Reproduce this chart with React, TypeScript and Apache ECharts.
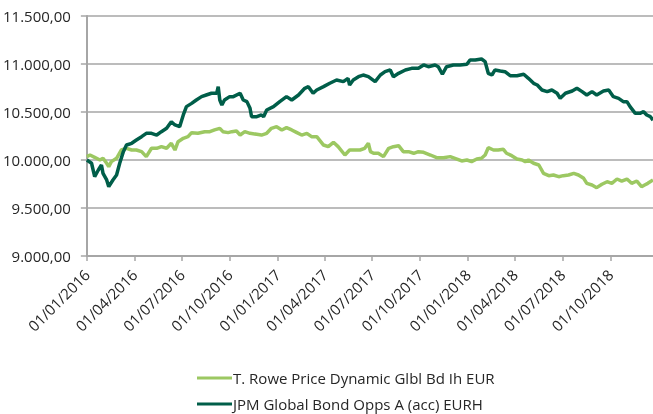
import React, { useEffect, useRef } from "react";
import * as echarts from "echarts";

const seriesNames = [
  "T. Rowe Price Dynamic Glbl Bd Ih EUR",
  "JPM Global Bond Opps A (acc) EURH",
];

const yTicks = [9000, 9500, 10000, 10500, 11000, 11500];

const xTickDates = [
  "2016-01-01", "2016-04-01", "2016-07-01", "2016-10-01",
  "2017-01-01", "2017-04-01", "2017-07-01", "2017-10-01",
  "2018-01-01", "2018-04-01", "2018-07-01", "2018-10-01",
];

const tRoweDates = [
  "2016-01-01", "2016-01-07", "2016-01-16", "2016-01-26", "2016-02-01", "2016-02-08", "2016-02-12", "2016-02-17",
  "2016-02-27", "2016-03-07", "2016-03-17", "2016-03-27", "2016-04-05", "2016-04-15", "2016-04-24", "2016-05-04",
  "2016-05-14", "2016-05-23", "2016-06-02", "2016-06-11", "2016-06-18", "2016-06-24", "2016-07-04", "2016-07-13",
  "2016-07-20", "2016-08-01", "2016-08-14", "2016-08-24", "2016-09-02", "2016-09-12", "2016-09-18", "2016-09-28",
  "2016-10-05", "2016-10-14", "2016-10-21", "2016-10-30", "2016-11-09", "2016-11-22", "2016-12-01", "2016-12-11",
  "2016-12-20", "2016-12-30", "2017-01-09", "2017-01-18", "2017-01-28", "2017-02-06", "2017-02-16", "2017-02-26",
  "2017-03-07", "2017-03-17", "2017-03-30", "2017-04-08", "2017-04-18", "2017-04-27", "2017-05-10", "2017-05-19",
  "2017-05-29", "2017-06-08", "2017-06-17", "2017-06-24", "2017-06-28", "2017-07-04", "2017-07-13", "2017-07-23",
  "2017-08-02", "2017-08-11", "2017-08-21", "2017-08-30", "2017-09-09", "2017-09-19", "2017-09-28", "2017-10-08",
  "2017-10-21", "2017-11-02", "2017-11-15", "2017-11-28", "2017-12-11", "2017-12-20", "2017-12-30", "2018-01-08",
  "2018-01-18", "2018-01-27", "2018-02-03", "2018-02-09", "2018-02-19", "2018-02-28", "2018-03-10", "2018-03-16",
  "2018-03-26", "2018-04-05", "2018-04-15", "2018-04-21", "2018-04-27", "2018-05-07", "2018-05-17", "2018-05-26",
  "2018-06-05", "2018-06-14", "2018-06-24", "2018-07-03", "2018-07-13", "2018-07-23", "2018-08-01", "2018-08-11",
  "2018-08-17", "2018-08-27", "2018-09-05", "2018-09-15", "2018-09-25", "2018-10-04", "2018-10-14", "2018-10-23",
  "2018-11-02", "2018-11-11", "2018-11-21", "2018-11-30", "2018-12-06", "2018-12-12", "2018-12-22",
];
const tRoweValues = [
  10035, 10052, 10028, 10000, 10018, 9966, 9930, 9983,
  10018, 10104, 10122, 10104, 10104, 10087, 10035, 10122,
  10122, 10139, 10122, 10174, 10104, 10191, 10226, 10243,
  10285, 10278, 10295, 10295, 10313, 10330, 10295, 10285,
  10295, 10302, 10260, 10295, 10278, 10268, 10260, 10278,
  10330, 10347, 10313, 10337, 10313, 10288, 10260, 10278,
  10243, 10243, 10156, 10139, 10184, 10139, 10052, 10104,
  10104, 10104, 10122, 10174, 10087, 10070, 10070, 10035,
  10122, 10139, 10149, 10087, 10087, 10070, 10087, 10080,
  10052, 10024, 10024, 10035, 10010, 9990, 10000, 9983,
  10010, 10018, 10052, 10128, 10104, 10104, 10111, 10070,
  10045, 10010, 10000, 9983, 10000, 9966, 9948, 9861,
  9837, 9844, 9826, 9837, 9844, 9861, 9844, 9809,
  9757, 9740, 9712, 9747, 9774, 9757, 9802, 9781,
  9802, 9757, 9781, 9722, 9740, 9757, 9792,
];

const jpmDates = [
  "2016-01-01", "2016-01-10", "2016-01-16", "2016-01-23", "2016-01-29", "2016-02-01", "2016-02-08", "2016-02-12",
  "2016-02-20", "2016-02-27", "2016-03-04", "2016-03-11", "2016-03-17", "2016-03-27", "2016-04-05", "2016-04-15",
  "2016-04-24", "2016-05-04", "2016-05-14", "2016-05-23", "2016-06-02", "2016-06-11", "2016-06-18", "2016-06-27",
  "2016-07-04", "2016-07-10", "2016-07-20", "2016-07-29", "2016-08-08", "2016-08-17", "2016-08-27", "2016-09-06",
  "2016-09-09", "2016-09-12", "2016-09-16", "2016-09-21", "2016-10-01", "2016-10-08", "2016-10-21", "2016-10-27",
  "2016-11-03", "2016-11-09", "2016-11-12", "2016-11-22", "2016-12-01", "2016-12-05", "2016-12-11", "2016-12-24",
  "2017-01-05", "2017-01-18", "2017-01-28", "2017-02-10", "2017-02-22", "2017-03-01", "2017-03-10", "2017-03-17",
  "2017-03-30", "2017-04-11", "2017-04-24", "2017-05-07", "2017-05-16", "2017-05-19", "2017-05-26", "2017-06-05",
  "2017-06-14", "2017-06-24", "2017-07-07", "2017-07-17", "2017-07-26", "2017-08-05", "2017-08-11", "2017-08-21",
  "2017-09-03", "2017-09-15", "2017-09-28", "2017-10-08", "2017-10-17", "2017-10-30", "2017-11-05", "2017-11-13",
  "2017-11-21", "2017-12-04", "2017-12-17", "2017-12-30", "2018-01-05", "2018-01-15", "2018-01-27", "2018-02-03",
  "2018-02-09", "2018-02-16", "2018-02-22", "2018-03-04", "2018-03-13", "2018-03-23", "2018-04-05", "2018-04-18",
  "2018-04-27", "2018-05-07", "2018-05-14", "2018-05-23", "2018-06-02", "2018-06-11", "2018-06-21", "2018-06-27",
  "2018-07-07", "2018-07-20", "2018-07-29", "2018-08-08", "2018-08-17", "2018-08-27", "2018-09-05", "2018-09-18",
  "2018-09-28", "2018-10-07", "2018-10-17", "2018-10-26", "2018-11-02", "2018-11-08", "2018-11-18", "2018-11-27",
  "2018-12-04", "2018-12-10", "2018-12-17", "2018-12-22",
];
const jpmValues = [
  10000, 9966, 9826, 9896, 9948, 9861, 9792, 9722,
  9792, 9844, 9966, 10087, 10156, 10174, 10208, 10243,
  10278, 10278, 10260, 10295, 10330, 10399, 10365, 10347,
  10469, 10556, 10590, 10625, 10660, 10677, 10695, 10695,
  10764, 10625, 10573, 10625, 10660, 10660, 10695, 10625,
  10608, 10538, 10451, 10451, 10469, 10451, 10521, 10556,
  10608, 10660, 10625, 10677, 10747, 10764, 10695, 10729,
  10764, 10799, 10833, 10816, 10851, 10781, 10833, 10868,
  10885, 10868, 10816, 10885, 10920, 10938, 10868, 10903,
  10938, 10955, 10955, 10990, 10972, 10990, 10972, 10893,
  10972, 10990, 10990, 10997, 11042, 11042, 11052, 11024,
  10903, 10885, 10938, 10927, 10920, 10878, 10878, 10893,
  10851, 10799, 10781, 10729, 10712, 10729, 10695, 10642,
  10695, 10719, 10747, 10712, 10677, 10712, 10677, 10719,
  10729, 10660, 10642, 10608, 10608, 10556, 10486, 10486,
  10503, 10469, 10451, 10415,
];

const colors = ["#9cc862", "#005e49"];
const FONT = "Open Sans";
const FS = 15;

function parseDate(s: string): number {
  const [y, m, d] = s.split("-").map(Number);
  return Date.UTC(y, m - 1, d);
}

function fmtDate(v: number): string {
  const d = new Date(v);
  const dd = String(d.getUTCDate()).padStart(2, "0");
  const mm = String(d.getUTCMonth() + 1).padStart(2, "0");
  return `${dd}/${mm}/${d.getUTCFullYear()}`;
}

function fmtNum(v: number): string {
  const s = Math.round(v).toString().replace(/\B(?=(\d{3})+(?!\d))/g, ".");
  return `${s},00`;
}

export default function App() {
  const ref = useRef<HTMLDivElement>(null);
  useEffect(() => {
    if (!ref.current) return;
    const chart = echarts.init(ref.current, undefined, { renderer: "svg" });
    const xTicks = xTickDates.map(parseDate);
    chart.setOption({
      animation: false,
      color: colors,
      grid: { left: 86, right: 0, top: 16, bottom: 158, containLabel: false },
      legend: {
        orient: "vertical",
        left: 197,
        top: 369,
        padding: 0,
        icon: "rect",
        itemWidth: 35,
        itemHeight: 3,
        itemGap: 8,
        textStyle: { fontFamily: FONT, fontSize: FS, color: "#262626", lineHeight: 18, padding: [0, 0, 0, -4] },
        data: seriesNames,
      },
      xAxis: {
        type: "value",
        min: parseDate("2016-01-01"),
        max: parseDate("2018-12-22"),
        axisLine: { show: true, lineStyle: { color: "#a6a6a6", width: 2 } },
        axisTick: { show: true, length: 5, lineStyle: { color: "#a6a6a6", width: 1.5 }, customValues: xTicks },
        axisLabel: {
          customValues: xTicks,
          formatter: (v: number) => fmtDate(v),
          rotate: 45,
          margin: 16,
          fontFamily: FONT,
          fontSize: FS,
          color: "#262626",
        },
        splitLine: { show: false },
      },
      yAxis: {
        type: "value",
        min: 9000,
        max: 11500,
        interval: 500,
        axisLine: { show: true, lineStyle: { color: "#a6a6a6", width: 2 } },
        axisTick: { show: true, length: 6, lineStyle: { color: "#a6a6a6", width: 1.5 } },
        axisLabel: {
          formatter: (v: number) => (yTicks.includes(v) ? fmtNum(v) : ""),
          margin: 16,
          fontFamily: FONT,
          fontSize: FS,
          color: "#262626",
        },
        splitLine: { show: true, lineStyle: { color: "#a6a6a6", width: 1.5 } },
      },
      series: [
        {
          name: seriesNames[0],
          type: "line",
          showSymbol: false,
          symbol: "none",
          lineStyle: { width: 3.5, color: colors[0] },
          data: tRoweDates.map((d, i) => [parseDate(d), tRoweValues[i]]),
        },
        {
          name: seriesNames[1],
          type: "line",
          showSymbol: false,
          symbol: "none",
          lineStyle: { width: 3.5, color: colors[1] },
          data: jpmDates.map((d, i) => [parseDate(d), jpmValues[i]]),
        },
      ],
    });
    return () => chart.dispose();
  }, []);
  return (
    <div
      ref={ref}
      style={{ position: "fixed", left: 0, top: 0, width: 653, height: 414 }}
    />
  );
}
